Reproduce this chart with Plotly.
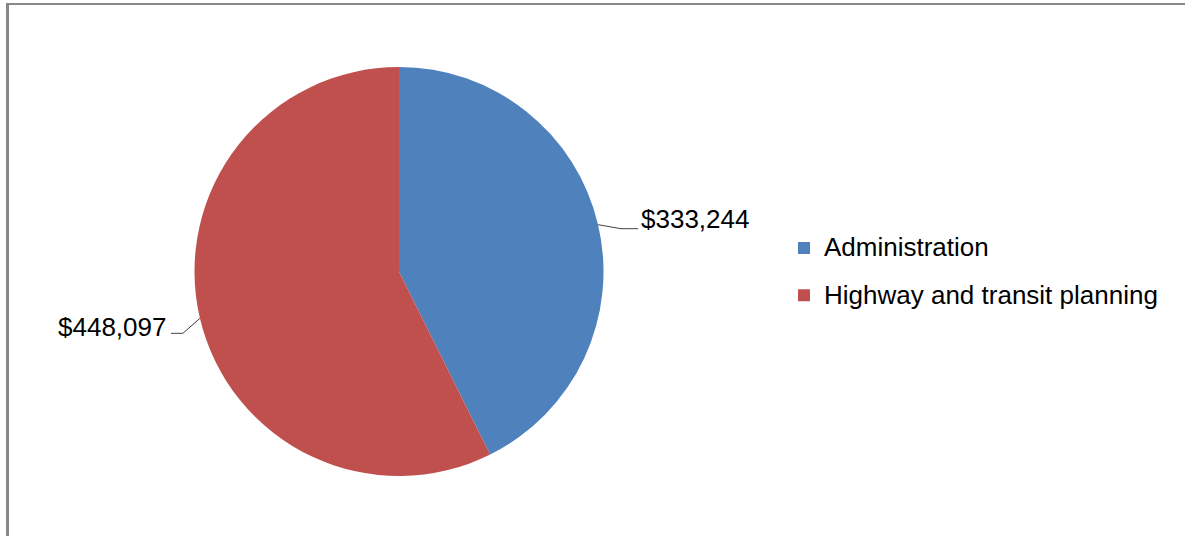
import math
import plotly.graph_objects as go

categories = ["Administration", "Highway and transit planning"]
values = [333244, 448097]
colors = ["#4F81BD", "#C0504D"]

W, H = 1185, 536
# pie placement (pixels)
CX, CY, R = 399, 271.5, 204.5
FONT = "Liberation Sans, Arial, sans-serif"
FS = 26

def px2paper(px, py):
    return px / W, 1 - py / H

legend_labels = ['<span style="font-size:%dpx;baseline-shift:5px">%s</span>' % (FS, c) for c in categories]

fig = go.Figure()
fig.add_trace(go.Pie(
    labels=legend_labels,
    values=values,
    marker=dict(colors=colors, line=dict(width=0)),
    sort=False,
    direction="clockwise",
    rotation=0,
    textinfo="none",
    hoverinfo="value+percent",
    domain=dict(x=[(CX - R) / W, (CX + R) / W], y=[1 - (CY + R) / H, 1 - (CY - R) / H]),
))

# data labels with bent leader lines at each slice's mid-angle
total = sum(values)
cum = 0
# (leader bend dx, dy), (leader end dx, dy), (text dx, dy), anchor  -- pixel offsets from slice edge
label_style = [
    ((23, 4), (40, 4), (42, -6), "left"),
    ((-17, 15), (-29, 15), (-33, 9), "right"),
]
for v, (bend, end, toff, anc) in zip(values, label_style):
    mid = (cum + v / 2) / total * 2 * math.pi
    cum += v
    ex = CX + R * math.sin(mid)
    ey = CY - R * math.cos(mid)
    p0 = px2paper(ex, ey)
    p1 = px2paper(ex + bend[0], ey + bend[1])
    p2 = px2paper(ex + end[0], ey + end[1])
    fig.add_shape(type="path", xref="paper", yref="paper",
                  path="M %f %f L %f %f L %f %f" % (p0[0], p0[1], p1[0], p1[1], p2[0], p2[1]),
                  line=dict(color="#404040", width=1))
    tx, ty = px2paper(ex + toff[0], ey + toff[1])
    fig.add_annotation(
        x=tx, y=ty, xref="paper", yref="paper",
        text="${:,}".format(v),
        showarrow=False, xanchor=anc, yanchor="middle",
        font=dict(family=FONT, size=FS, color="#000000"),
        borderpad=0,
    )

# chart frame (top and left edges)
fig.add_shape(type="line", xref="paper", yref="paper",
              x0=6 / W, x1=1, y0=1 - 4 / H, y1=1 - 4 / H,
              line=dict(color="#888888", width=2))
fig.add_shape(type="line", xref="paper", yref="paper",
              x0=7.5 / W, x1=7.5 / W, y0=0, y1=1 - 3 / H,
              line=dict(color="#888888", width=3))

fig.update_layout(
    width=W, height=H,
    margin=dict(l=0, r=0, t=0, b=0),
    paper_bgcolor="white", plot_bgcolor="white",
    showlegend=True,
    legend=dict(
        x=784 / W, xanchor="left",
        y=1 - 272 / H, yanchor="middle",
        font=dict(family=FONT, size=34, color="#000000"),
        bgcolor="rgba(0,0,0,0)",
    ),
    font=dict(family=FONT),
)

fig.write_html("out.html")
